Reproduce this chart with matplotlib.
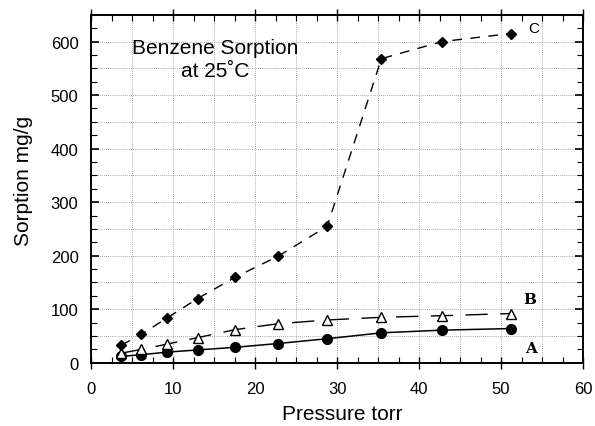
import numpy as np
import matplotlib
matplotlib.use("Agg")
import matplotlib.pyplot as plt
from matplotlib.ticker import MultipleLocator

# ------------------------------------------------------------------
# Data (benzene sorption at 25 C)
# ------------------------------------------------------------------
pressure = [3.7, 6.1, 9.3, 13.0, 17.6, 22.8, 28.8, 35.4, 42.8, 51.2]
sorption_a = [12, 15, 20, 24, 29, 36, 45, 56, 61, 64]
sorption_b = [18, 25, 35, 47, 62, 73, 80, 85, 88, 92]
sorption_c = [33, 53, 84, 120, 160, 199, 255, 568, 600, 615]

plt.rcParams['font.family'] = ['Liberation Sans', 'DejaVu Sans']

fig = plt.figure(figsize=(5.95, 4.27), dpi=100)
ax = fig.add_axes([0.153, 0.148, 0.827, 0.815])

# ---- dotted grid every 5 torr / 50 mg/g ----
for gx in np.arange(5, 60, 5):
    ax.axvline(gx, color='0.55', lw=0.6, ls=(0, (1, 1.5)), zorder=0)
for gy in np.arange(50, 650, 50):
    ax.axhline(gy, color='0.55', lw=0.6, ls=(0, (1, 1.5)), zorder=0)

# ---- curves ----
ax.plot(pressure, sorption_a, color='black', lw=1.1)
ax.plot(pressure, sorption_a, 'o', color='black', ms=7)

ax.plot(pressure, sorption_b, color='black', lw=1.0, ls=(0, (16, 9)))
ax.plot(pressure, sorption_b, '^', mfc='white', mec='black', mew=1.0, ms=7)

ax.plot(pressure, sorption_c, color='black', lw=1.0, ls=(0, (7, 6)))
ax.plot(pressure, sorption_c, 'D', color='black', ms=5)

# ---- curve labels ----
ax.text(54.0, 626, 'C', fontsize=11, ha='center', va='center')
ax.text(53.5, 120, 'B', fontsize=11, fontweight='bold', family='DejaVu Serif',
        ha='center', va='center')
ax.text(53.7, 28, 'A', fontsize=11, fontweight='bold', family='DejaVu Serif',
        ha='center', va='center')

ax.text(15.1, 568, 'Benzene Sorption\nat 25\u02daC', fontsize=15,
        ha='center', va='center', linespacing=1.25)

# ---- axes ----
ax.set_xlim(0, 60)
ax.set_ylim(0, 650)
ax.xaxis.set_major_locator(MultipleLocator(10))
ax.xaxis.set_minor_locator(MultipleLocator(2.5))
ax.yaxis.set_major_locator(MultipleLocator(100))
ax.yaxis.set_minor_locator(MultipleLocator(25))
ax.tick_params(axis='x', which='major', direction='inout', length=8,
               width=1.0, top=True, labelsize=12, pad=9)
ax.tick_params(axis='x', which='minor', direction='in', length=4,
               width=0.8, top=True)
ax.tick_params(axis='y', which='major', direction='in', length=6,
               width=1.2, right=True, labelsize=12, pad=9)
ax.tick_params(axis='y', which='minor', direction='in', length=4,
               width=0.8, right=True)
for s in ax.spines.values():
    s.set_linewidth(1.4)

ax.set_xlabel('Pressure torr', fontsize=15)
ax.set_ylabel('Sorption mg/g', fontsize=15)
ax.xaxis.set_label_coords(0.51, -0.118)
ax.yaxis.set_label_coords(-0.118, 0.525)

fig.savefig('out.png', dpi=100)
